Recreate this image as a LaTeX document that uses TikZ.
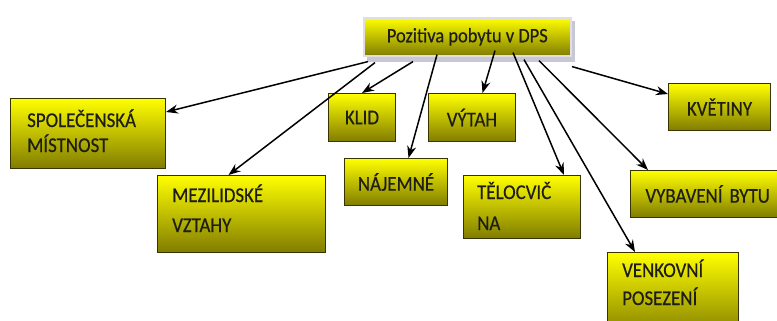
\documentclass[tikz,border=0pt]{standalone}
\usepackage{fontspec}
\setmainfont{Carlito}[FakeStretch=0.9,FakeBold=0.4]
\usetikzlibrary{arrows.meta}
\definecolor{boxtop}{RGB}{255,255,0}
\definecolor{boxbot}{RGB}{128,124,0}
\definecolor{boxline}{RGB}{55,52,0}
\definecolor{rootshadow}{RGB}{200,200,212}
\definecolor{ink}{RGB}{30,30,20}
\tikzset{
  yellowbox/.style={rectangle, draw=boxline, line width=1pt,
    top color=boxtop, bottom color=boxbot, inner sep=0pt,
    anchor=north west, text=ink, font=\fontsize{21}{25}\selectfont},
  boxtext/.style={anchor=base west, inner sep=0pt, text=ink,
    font=\fontsize{21}{25}\selectfont},
  link/.style={line width=1.5pt, draw=black,
    -{Stealth[length=12pt,width=9pt]}}
}
\begin{document}
\begin{tikzpicture}[x=1pt,y=-1pt]
\useasboundingbox (0,0) rectangle (777,321);
\clip (0,0) rectangle (777,321);

% central box with its soft shadow
\fill[rootshadow] (367,21) rectangle (575,62);
\node[yellowbox, draw=gray!25, line width=1.6pt, minimum width=207pt,
  minimum height=38pt, font=\fontsize{20.5}{24}\selectfont]
  (root) at (363,17) {Pozitiva pobytu v DPS};

% surrounding boxes
\node[yellowbox, minimum width=155pt, minimum height=70pt] (soc) at (10,98) {};
\node[boxtext] (soc1) at (27,127) {SPOLEČENSKÁ};
\node[boxtext] (soc2) at (27,152) {MÍSTNOST};

\node[yellowbox, minimum width=168pt, minimum height=77pt] (mez) at (157,175) {};
\node[boxtext] (mez1) at (172,202) {MEZILIDSKÉ};
\node[boxtext] (mez2) at (172,232) {VZTAHY};

\node[yellowbox, minimum width=67pt, minimum height=48pt] (klid) at (328,93) {KLID};
\node[yellowbox, minimum width=87pt, minimum height=48pt] (vytah) at (428,93) {VÝTAH};
\node[yellowbox, minimum width=103pt, minimum height=47pt] (naj) at (344,158) {NÁJEMNÉ};

\node[yellowbox, minimum width=117pt, minimum height=63pt] (telo) at (463,175) {};
\node[boxtext] (telo1) at (477,199) {TĚLOCVIČ};
\node[boxtext] (telo2) at (477,230) {NA};

\node[yellowbox, minimum width=131pt, minimum height=85pt] (venk) at (607,252) {};
\node[boxtext] (venk1) at (622,277) {VENKOVNÍ};
\node[boxtext] (venk2) at (622,305) {POSEZENÍ};

\node[yellowbox, minimum width=102pt, minimum height=47pt] (kvet) at (668,83) {KVĚTINY};
\node[yellowbox, minimum width=170pt, minimum height=47pt, text width=150pt,
  align=left, inner xsep=15pt] (vyb) at (630,170) {VYBAVENÍ BYTU};

% connectors from the central box
\draw[link] ([xshift=5pt,yshift=-5pt]root.south west) -- ([yshift=-14pt]soc.north east);
\draw[link] ([xshift=12pt,yshift=-6pt]root.south west) -- ([xshift=-13pt]mez.north);
\draw[link] ([xshift=50pt,yshift=-5pt]root.south west) -- (klid.north);
\draw[link] ([xshift=74pt,yshift=2pt]root.south west) -- ([xshift=12.5pt]naj.north);
\draw[link] ([xshift=132pt,yshift=6pt]root.south west) -- ([xshift=10.5pt]vytah.north);
\draw[link] ([xshift=150pt,yshift=4pt]root.south west) -- ([xshift=-17pt]telo.north east);
\draw[link] ([xshift=161pt,yshift=-3pt]root.south west) -- ([xshift=28pt]venk.north west);
\draw[link] ([xshift=176pt,yshift=-4pt]root.south west) -- ([xshift=18pt]vyb.north west);
\draw[link] ([xshift=209pt,yshift=-10pt]root.south west) -- ([yshift=-11pt]kvet.north west);
\end{tikzpicture}
\end{document}
